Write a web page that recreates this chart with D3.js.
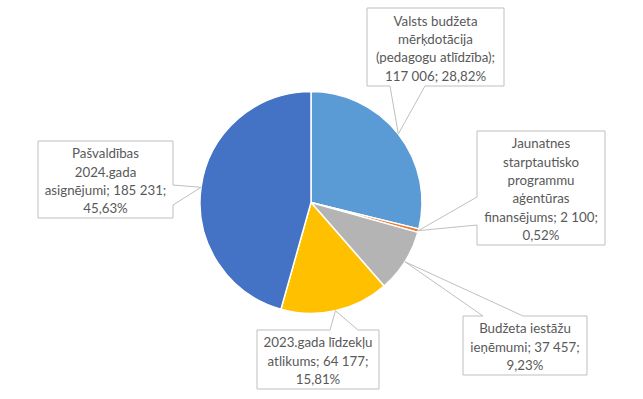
<!DOCTYPE html>
<html>
<head>
<meta charset="utf-8">
<script src="https://cdn.jsdelivr.net/npm/d3@7"></script>
<style>
  html, body { margin: 0; padding: 0; background: #fff; }
  svg { display: block; }
</style>
</head>
<body>
<div id="chart"></div>
<script>
// data
const categories = [
  "Valsts budžeta mērķdotācija (pedagogu atlīdzība)",
  "Jaunatnes starptautisko programmu aģentūras finansējums",
  "Budžeta iestāžu ieņēmumi",
  "2023.gada līdzekļu atlikums",
  "Pašvaldības 2024.gada asignējumi"
];
const values = [117006, 2100, 37457, 64177, 185231];
const colors = ["#5B9BD5", "#ED7D31", "#B4B4B4", "#FFC000", "#4472C4"];
// label text as wrapped in the chart; {v} and {p} are filled in
const labelLines = [
  ["Valsts budžeta", "mērķdotācija", "(pedagogu atlīdzība);", "{v}; {p}"],
  ["Jaunatnes", "starptautisko", "programmu", "aģentūras", "finansējums; {v};", "{p}"],
  ["Budžeta iestāžu", "ieņēmumi; {v};", "{p}"],
  ["2023.gada līdzekļu", "atlikums; {v};", "{p}"],
  ["Pašvaldības", "2024.gada", "asignējumi; {v};", "{p}"]
];

// layout of the callout boxes: x, y, w, h, tail side and tail base [from, to]
const boxes = [
  { x: 367, y: 8, w: 137, h: 78, side: "bottom", base: [390, 425] },
  { x: 477, y: 131, w: 128, h: 114, side: "left", base: [197, 225] },
  { x: 463, y: 316, w: 124, h: 59, side: "top", base: [483, 523] },
  { x: 257, y: 330, w: 122, h: 59, side: "top", base: [330, 358] },
  { x: 38, y: 141, w: 135, h: 77, side: "right", base: [185, 205] }
];

const width = 643, height = 399;
const cx = 311, cy = 202.5, radius = 111;
const fontSize = 13.3, lineHeight = 18.3;

const total = d3.sum(values);
const fmtValue = v => d3.format(",")(v).replace(/,/g, " ");
const fmtPct = v => (v / total * 100).toFixed(2).replace(".", ",") + "%";

const svg = d3.select("#chart").append("svg")
  .attr("width", width)
  .attr("height", height);

const pie = d3.pie().sort(null).value(d => d);
const arcs = pie(values);

const arc = d3.arc().innerRadius(0).outerRadius(radius);
const edgeArc = d3.arc().innerRadius(radius).outerRadius(radius);

const g = svg.append("g").attr("transform", `translate(${cx},${cy})`);

g.selectAll("path.slice")
  .data(arcs)
  .enter().append("path")
  .attr("class", "slice")
  .attr("d", arc)
  .attr("fill", (d, i) => colors[i])
  .attr("stroke", "#fff")
  .attr("stroke-width", 1.5)
  .attr("stroke-linejoin", "round");

// callouts
const labels = svg.append("g").attr("class", "labels");

arcs.forEach((d, i) => {
  const b = boxes[i];
  const tip = edgeArc.centroid(d);
  const tx = tip[0] + cx, ty = tip[1] + cy;
  const x0 = b.x, y0 = b.y, x1 = b.x + b.w, y1 = b.y + b.h;
  let pts;
  if (b.side === "bottom") {
    pts = [[x0, y0], [x1, y0], [x1, y1], [b.base[1], y1], [tx, ty], [b.base[0], y1], [x0, y1]];
  } else if (b.side === "top") {
    pts = [[x0, y0], [b.base[0], y0], [tx, ty], [b.base[1], y0], [x1, y0], [x1, y1], [x0, y1]];
  } else if (b.side === "left") {
    pts = [[x0, y0], [x1, y0], [x1, y1], [x0, y1], [x0, b.base[1]], [tx, ty], [x0, b.base[0]]];
  } else {
    pts = [[x0, y0], [x1, y0], [x1, b.base[0]], [tx, ty], [x1, b.base[1]], [x1, y1], [x0, y1]];
  }
  labels.append("path")
    .attr("d", d3.line()(pts) + "Z")
    .attr("fill", "#fff")
    .attr("stroke", "#BFBFBF")
    .attr("stroke-width", 1);

  const lines = labelLines[i].map(s => s.replace("{v}", fmtValue(values[i])).replace("{p}", fmtPct(values[i])));
  const midY = b.y + b.h / 2 + 1.5;
  const startY = midY - (lines.length - 1) * lineHeight / 2;
  const text = labels.append("text")
    .attr("text-anchor", "middle")
    .attr("font-family", "Lato, 'Open Sans', sans-serif")
    .attr("font-size", fontSize)
    .attr("fill", "#595959");
  lines.forEach((s, j) => {
    text.append("tspan")
      .attr("x", b.x + b.w / 2)
      .attr("y", startY + j * lineHeight)
      .attr("dy", "0.35em")
      .text(s);
  });
});
</script>
</body>
</html>
